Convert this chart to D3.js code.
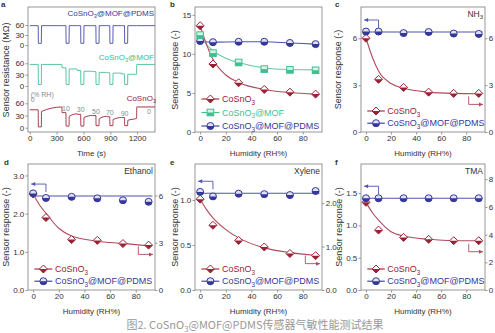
<!DOCTYPE html>
<html>
<head>
<meta charset="utf-8">
<script src="https://cdn.jsdelivr.net/npm/d3@7"></script>
<style>
  body { margin: 0; background: #fff; }
  text { font-family: "Liberation Sans", Arial, sans-serif; }
</style>
</head>
<body>
<svg id="fig" width="495" height="333"></svg>
<script>

//-- panel a: resistance transients --//
var timeTicks = [0, 300, 600, 900, 1200];
var tEnd = 1400;
var gasOn = [95, 405, 570, 740, 895, 1060];
var gasDur = 35;
var rhSwitch = [0, 360, 530, 700, 860, 1025, 1195];
var rhLabels = ["0", "10", "30", "50", "70", "90", "0"];
var resTicks = [0, 30, 60];

var bareBefore = [44, 37, 33, 30, 27, 25];
var bareGas    = [2, 4, 4, 5, 5, 5];
var bareRecov  = [40, 28, 25, 22, 20, 18];
var bareAfter  = [51, 34, 30, 28, 25, 23];
var bareEnd    = 51;

var mofBefore = [57, 48, 41, 38, 35, 32];
var mofGas    = [4, 4, 4, 4, 4, 4];
var mofRecov  = [57, 45, 39, 36, 34, 31];
var mofAfter  = [57, 45, 39, 36, 34, 31];
var mofEnd    = 57;

var pdmsBefore = [58, 58, 58, 58, 58, 58];
var pdmsGas    = [5, 5, 5, 5, 5, 5];
var pdmsRecov  = [58, 58, 58, 58, 58, 58];
var pdmsAfter  = [58, 58, 58, 58, 58, 58];
var pdmsEnd    = 58;

//-- panels b-f: response vs humidity --//
var hum = [0, 10, 30, 50, 70, 90];
var fitHum = [0, 5, 10, 20, 30, 50, 70, 90];
var humTicks = [0, 20, 40, 60, 80];

// b: three sensors
var bBare    = [13.6, 8.7, 6.3, 5.45, 5.1, 4.85];
var bMof     = [12.4, 10.1, 8.9, 8.05, 7.95, 7.9];
var bPdms    = [11.65, 11.5, 11.55, 11.55, 11.4, 11.25];
var bBareFit = [13.6, 11.2, 9.3, 7.3, 6.35, 5.45, 5.05, 4.85];
var bMofFit  = [12.4, 11.2, 10.4, 9.45, 8.9, 8.2, 8.0, 7.95];

// c: NH3
var cBare     = [6.0, 3.37, 2.85, 2.55, 2.47, 2.47];
var cBareFit  = [6.0, 4.8, 3.9, 3.1, 2.8, 2.55, 2.47, 2.45];
var cPdms     = [6.43, 6.43, 6.33, 6.4, 6.3, 6.28];
var cPdmsMean = 6.4;

// d: ethanol
var dBare     = [6.1, 4.6, 3.2, 3.15, 2.95, 2.85];
var dBareFit  = [6.1, 5.4, 4.88, 3.92, 3.43, 3.1, 2.96, 2.8];
var dPdms     = [2.53, 2.41, 2.44, 2.4, 2.35, 2.31];
var dPdmsMean = 2.46;

// e: xylene
var eBare     = [2.09, 1.49, 1.14, 0.99, 0.84, 0.79];
var eBareFit  = [2.09, 1.85, 1.66, 1.39, 1.2, 0.97, 0.86, 0.8];
var ePdms     = [1.09, 1.04, 1.07, 1.065, 1.055, 1.1];
var ePdmsMean = 1.075;

// f: TMA
var fBare     = [6.33, 4.33, 3.8, 3.66, 3.56, 3.56];
var fBareFit  = [6.33, 5.6, 5.05, 4.21, 3.9, 3.66, 3.56, 3.56];
var fPdms     = [1.42, 1.42, 1.42, 1.42, 1.42, 1.42];
var fPdmsMean = 1.42;

//-- colours and layout --//
var RED = "#9a2236", RED_FIT = "#b04b5d",
    BLUE = "#35379a", BLUE_FIT = "#4d55ad",
    GREEN = "#3fbf8e", GREEN_FIT = "#62cca3",
    AXIS = "#8c8c8c", INK = "#333", GREY = "#8a8a8a";

var colX = [[28, 155], [195, 322], [361, 485]];
var rowY = [[7, 132], [164, 290]];

var svg = d3.select("#fig");

// text with "_3" style subscripts
function chem(t, str, fs) {
  var parts = str.split("_");
  t.append("tspan").text(parts[0]);
  for (var i = 1; i < parts.length; i++) {
    t.append("tspan").attr("dy", fs * 0.28).style("font-size", (fs * 0.7) + "px").text(parts[i][0]);
    t.append("tspan").attr("dy", -fs * 0.28).text(parts[i].slice(1));
  }
  return t;
}

function frame(g, xr, yr) {
  g.append("rect")
    .attr("x", xr[0]).attr("y", yr[0])
    .attr("width", xr[1] - xr[0]).attr("height", yr[1] - yr[0])
    .attr("fill", "none").attr("stroke", AXIS).attr("stroke-width", 0.9);
}

function styleAxis(a) {
  a.select(".domain").remove();
  a.selectAll("line").attr("stroke", AXIS).attr("stroke-width", 0.9);
  a.selectAll("text").attr("fill", INK).style("font-size", "8px")
    .style("font-family", '"Liberation Sans", Arial, sans-serif');
}

function xAxis(g, x, y0, ticks, title, fmt) {
  var ax = d3.axisBottom(x).tickValues(ticks).tickSize(2.5).tickPadding(1.2);
  if (fmt) ax.tickFormat(d3.format(fmt));
  var a = g.append("g").attr("transform", `translate(0,${y0})`).call(ax);
  styleAxis(a);
  var r = x.range();
  g.append("text").attr("x", (r[0] + r[1]) / 2).attr("y", y0 + 24)
    .attr("text-anchor", "middle").attr("fill", INK).style("font-size", "8px").text(title);
}

function yAxis(g, y, x0, ticks, fmt, right) {
  var ax = right ? d3.axisRight(y) : d3.axisLeft(y);
  ax.tickValues(ticks).tickSize(2.5).tickPadding(1.2);
  if (fmt) ax.tickFormat(d3.format(fmt));
  var a = g.append("g").attr("transform", `translate(${x0},0)`).call(ax);
  styleAxis(a);
}

function yTitle(g, cx, cy, str) {
  g.append("text").attr("transform", `translate(${cx},${cy}) rotate(-90)`)
    .attr("text-anchor", "middle").attr("dy", "0.35em")
    .attr("fill", INK).style("font-size", "9px").text(str);
}

function letter(x, y, s) {
  svg.append("text").attr("x", x).attr("y", y).attr("fill", INK)
    .style("font-size", "8px").style("font-weight", "bold").text(s);
}

// half filled markers
function marker(g, shape, color, cx, cy) {
  var m = g.append("g").attr("transform", `translate(${cx},${cy})`);
  if (shape === "diamond") {
    var r = 4;
    m.append("path").attr("d", `M0,${-r}L${r},0L0,${r}L${-r},0Z`)
      .attr("fill", "#fff").attr("stroke", color).attr("stroke-width", 1);
    m.append("path").attr("d", `M${-r},0L${r},0L0,${r}Z`).attr("fill", color);
  } else if (shape === "circle") {
    var c = 3.5;
    m.append("circle").attr("r", c)
      .attr("fill", "#dfe0f2").attr("stroke", color).attr("stroke-width", 1);
    m.append("path").attr("d", `M${-c},0A${c},${c} 0 0 0 ${c},0Z`).attr("fill", color);
  } else {
    var s = 3.3;
    m.append("rect").attr("x", -s).attr("y", -s).attr("width", 2 * s).attr("height", 2 * s)
      .attr("fill", "#d8f3e8").attr("stroke", color).attr("stroke-width", 1);
    m.append("rect").attr("x", -s).attr("y", 0).attr("width", 2 * s).attr("height", s).attr("fill", color);
  }
}

function curve(g, x, y, xs, ys, color, kind) {
  var line = d3.line().x((d, i) => x(xs[i])).y(d => y(d)).curve(kind || d3.curveMonotoneX);
  g.append("path").attr("d", line(ys)).attr("fill", "none")
    .attr("stroke", color).attr("stroke-width", 1.1);
}

function arrow(g, pts, color) {
  g.append("path").attr("d", d3.line()(pts)).attr("fill", "none")
    .attr("stroke", color).attr("stroke-width", 0.9);
  var p = pts[pts.length - 1], q = pts[pts.length - 2];
  var dir = Math.sign(p[0] - q[0]);
  g.append("path")
    .attr("d", `M${p[0]},${p[1]}L${p[0] - dir * 4},${p[1] - 2}L${p[0] - dir * 4},${p[1] + 2}Z`)
    .attr("fill", color);
}

function legendRow(g, x, y, shape, color, label) {
  g.append("line").attr("x1", x(1)).attr("x2", x(15)).attr("y1", y).attr("y2", y)
    .attr("stroke", color).attr("stroke-width", 1.1);
  marker(g, shape, color, x(8), y);
  chem(g.append("text").attr("x", x(17)).attr("y", y + 3.2).attr("fill", color)
    .style("font-size", "9px"), label, 9);
}

//-- panel a --//
(function () {
  var g = svg.append("g");
  var xr = colX[0], yr = rowY[0];
  var x = d3.scaleLinear().domain([-20, tEnd]).range(xr);
  var yPdms = d3.scaleLinear().domain([0, 60]).range([45, 25]);
  var yMof  = d3.scaleLinear().domain([0, 60]).range([86, 63.3]);
  var yBare = d3.scaleLinear().domain([0, 60]).range([127.7, 103.3]);

  frame(g, xr, yr);
  xAxis(g, x, yr[1], timeTicks, "Time (s)", "d");
  [yPdms, yMof, yBare].forEach(y => yAxis(g, y, xr[0], resTicks));
  yTitle(g, 6, 70, "Sensor resistance (MΩ)");

  // one step per humidity level, one gas pulse inside each step
  function transient(before, gas, recov, after, endLevel) {
    var pts = [[0, before[0]]];
    gasOn.forEach(function (t, i) {
      var next = rhSwitch[i + 1];
      pts.push([t - 1, before[i]], [t + 1, gas[i]], [t + gasDur - 1, gas[i]],
               [t + gasDur + 1, recov[i]], [next - 1, after[i]],
               [next + 1, i + 1 < gasOn.length ? before[i + 1] : endLevel]);
    });
    pts.push([tEnd, endLevel]);
    return pts;
  }

  function draw(pts, y, color, kind) {
    g.append("path")
      .attr("d", d3.line().x(d => x(d[0])).y(d => y(d[1])).curve(kind)(pts))
      .attr("fill", "none").attr("stroke", color).attr("stroke-width", 1);
  }

  draw(transient(pdmsBefore, pdmsGas, pdmsRecov, pdmsAfter, pdmsEnd), yPdms, "#5a5fae", d3.curveLinear);
  draw(transient(mofBefore, mofGas, mofRecov, mofAfter, mofEnd), yMof, "#5cc7a0", d3.curveLinear);
  draw(transient(bareBefore, bareGas, bareRecov, bareAfter, bareEnd), yBare, "#a23a4c", d3.curveMonotoneX);

  chem(g.append("text").attr("x", xr[1] - 1).attr("y", 16).attr("text-anchor", "end")
    .attr("fill", BLUE).style("font-size", "8px"), "CoSnO_3@MOF@PDMS", 8);
  chem(g.append("text").attr("x", xr[1] - 1).attr("y", 60).attr("text-anchor", "end")
    .attr("fill", "#3bbd8c").style("font-size", "8px"), "CoSnO_3@MOF", 8);
  chem(g.append("text").attr("x", xr[1] + 1).attr("y", 101).attr("text-anchor", "end")
    .attr("fill", RED).style("font-size", "8px"), "CoSnO_3", 8);

  // humidity steps
  var rh = g.append("g").attr("fill", GREY).style("font-size", "7px");
  rh.append("text").attr("x", x(0) + 1).attr("y", 96.5).text("(% RH)");
  rh.append("text").attr("x", x(0) + 1).attr("y", yBare(bareAfter[0]) - 4.5).text(rhLabels[0]);
  for (var i = 1; i < gasOn.length; i++) {
    rh.append("text").attr("x", x(gasOn[i])).attr("y", yBare(bareBefore[i]) - 2)
      .attr("text-anchor", "middle").text(rhLabels[i]);
  }
  rh.append("text").attr("x", x((rhSwitch[6] + tEnd) / 2) + 3).attr("y", yBare(bareEnd) + 7)
    .attr("text-anchor", "middle").text(rhLabels[6]);
})();

//-- panel b --//
(function () {
  var g = svg.append("g");
  var xr = colX[1], yr = rowY[0];
  var x = d3.scaleLinear().domain([-4, 95]).range(xr);
  var y = d3.scaleLinear().domain([0, 16]).range([yr[1], yr[0]]);

  frame(g, xr, yr);
  xAxis(g, x, yr[1], humTicks, "Humidity (RH%)");
  yAxis(g, y, xr[0], [0, 5, 10, 15]);
  yTitle(g, 175, 70, "Sensor response (-)");

  curve(g, x, y, hum, bPdms, BLUE_FIT);
  curve(g, x, y, fitHum, bMofFit, GREEN_FIT);
  curve(g, x, y, fitHum, bBareFit, RED_FIT);

  hum.forEach(function (h, i) {
    marker(g, "circle", BLUE, x(h), y(bPdms[i]));
    marker(g, "square", GREEN, x(h), y(bMof[i]));
    marker(g, "diamond", RED, x(h), y(bBare[i]));
  });

  legendRow(g, x, yr[1] - 33, "diamond", RED, "CoSnO_3");
  legendRow(g, x, yr[1] - 19.5, "square", GREEN, "CoSnO_3@MOF");
  legendRow(g, x, yr[1] - 6, "circle", BLUE, "CoSnO_3@MOF@PDMS");
})();

//-- panels c-f --//
function gasPanel(col, row, yLeftDom, yLeftTicks, leftFmt, yRightDom, yRightTicks, rightFmt,
                  bare, bareFit, pdms, pdmsMean, gas, titleX) {
  var g = svg.append("g");
  var xr = colX[col], yr = rowY[row];
  var x = d3.scaleLinear().domain([-4, 95]).range(xr);
  var yL = d3.scaleLinear().domain(yLeftDom).range([yr[1], yr[0]]);
  var yR = d3.scaleLinear().domain(yRightDom).range([yr[1], yr[0]]);

  frame(g, xr, yr);
  xAxis(g, x, yr[1], humTicks, "Humidity (RH%)");
  yAxis(g, yL, xr[0], yLeftTicks, leftFmt);
  yAxis(g, yR, xr[1], yRightTicks, rightFmt, true);
  yTitle(g, titleX, (yr[0] + yr[1]) / 2, "Sensor response (-)");

  chem(g.append("text").attr("x", xr[1] - 2).attr("y", yr[0] + 9.5).attr("text-anchor", "end")
    .attr("fill", INK).style("font-size", "8.5px"), gas, 8.5);

  // CoSnO3@MOF@PDMS on the left axis, bare CoSnO3 on the right axis
  g.append("line").attr("x1", x(-1)).attr("x2", x(93))
    .attr("y1", yL(pdmsMean)).attr("y2", yL(pdmsMean))
    .attr("stroke", BLUE_FIT).attr("stroke-width", 1.1);
  curve(g, x, yR, fitHum, bareFit, RED_FIT);

  hum.forEach(function (h, i) {
    marker(g, "diamond", RED, x(h), yR(bare[i]));
  });
  hum.forEach(function (h, i) {
    marker(g, "circle", BLUE, x(h), yL(pdms[i]));
  });

  var yb = yL(pdmsMean);
  arrow(g, [[x(10), yb - 4], [x(10), yb - 12], [x(-1.5), yb - 12]], BLUE_FIT);
  var yrd = yR(bareFit[6]);
  arrow(g, [[x(82), yrd + 3], [x(82), yrd + 11], [xr[1] - 2, yrd + 11]], RED_FIT);

  legendRow(g, x, yr[1] - 21, "diamond", RED, "CoSnO_3");
  legendRow(g, x, yr[1] - 8.8, "circle", BLUE, "CoSnO_3@MOF@PDMS");
}

gasPanel(2, 0, [0, 8], [0, 3, 6], null, [0, 8], [0, 3, 6], null,
         cBare, cBareFit, cPdms, cPdmsMean, "NH_3", 338);
gasPanel(0, 1, [0, 3.3], [0, 1, 2, 3], null, [0, 8], [0, 3, 6], null,
         dBare, dBareFit, dPdms, dPdmsMean, "Ethanol", 6);
gasPanel(1, 1, [0, 1.4], [0, 0.5, 1], ".1f", [0, 2.9], [0, 1, 2], null,
         eBare, eBareFit, ePdms, ePdmsMean, "Xylene", 175);
gasPanel(2, 1, [0, 1.95], [0, 0.5, 1, 1.5], ".1f", [0, 9.1], [0, 2, 4, 6, 8], null,
         fBare, fBareFit, fPdms, fPdmsMean, "TMA", 339);

letter(1, 7, "a");
letter(170, 7, "b");
letter(335, 7, "c");
letter(4, 165, "d");
letter(170, 165, "e");
letter(335, 165, "f");

//-- caption --//
var cap = svg.append("text").attr("x", 255).attr("y", 329).attr("text-anchor", "middle")
  .attr("fill", "#999").style("font-size", "11px")
  .style("font-family", '"Noto Sans CJK SC", "Noto Sans", sans-serif');
chem(cap, "图2. CoSnO_3@MOF@PDMS传感器气敏性能测试结果", 11);

</script>
</body>
</html>
